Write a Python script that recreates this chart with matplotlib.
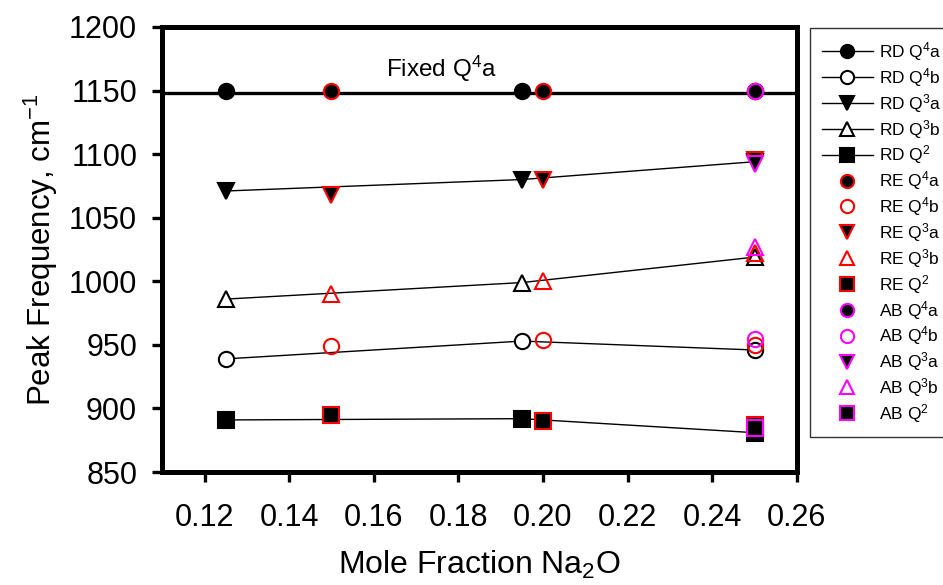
import matplotlib.pyplot as plt
from matplotlib.lines import Line2D

plt.rcParams['font.family'] = ['Liberation Sans', 'DejaVu Sans']
plt.rcParams['mathtext.fontset'] = 'custom'
plt.rcParams['mathtext.rm'] = 'Liberation Sans'
plt.rcParams['mathtext.it'] = 'Liberation Sans'
plt.rcParams['mathtext.default'] = 'regular'

# RD series (connected by lines)
rd_x = [0.125, 0.195, 0.25]
rd_q4a = [1150, 1150, 1150]
rd_q4b = [939, 953, 946]
rd_q3a = [1071, 1080, 1094]
rd_q3b = [986, 999, 1019]
rd_q2 = [891, 892, 881]

# RE series
re_x = [0.15, 0.20, 0.25]
re_q4a = [1150, 1150, 1150]
re_q4b = [949, 954, 950]
re_q3a = [1068, 1080, 1095]
re_q3b = [990, 1000, 1022]
re_q2 = [895, 890, 887]

# AB series
ab_x = [0.25]
ab_q4a = [1150]
ab_q4b = [955]
ab_q3a = [1092]
ab_q3b = [1027]
ab_q2 = [885]

fixed_q4a = 1148

xticks = [0.12, 0.14, 0.16, 0.18, 0.20, 0.22, 0.24, 0.26]
yticks = [850, 900, 950, 1000, 1050, 1100, 1150, 1200]

fig = plt.figure(figsize=(9.43, 5.85), dpi=100)
ax = fig.add_axes([0.172, 0.193, 0.673, 0.761])

ms = 11
lms = 9.5
# marker style per peak: (marker, filled)
styles = [('o', True), ('o', False), ('v', True), ('^', False), ('s', True)]
handles = []
labels = []
names = ['Q$^4$a', 'Q$^4$b', 'Q$^3$a', 'Q$^3$b', 'Q$^2$']

ax.axhline(fixed_q4a, color='black', lw=2.4, zorder=2)

rd_sets = [rd_q4a, rd_q4b, rd_q3a, rd_q3b, rd_q2]
for (m, filled), ys, nm in zip(styles, rd_sets, names):
    fc = 'black' if filled else 'white'
    ls = 'none' if ys is rd_q4a else '-'
    ax.plot(rd_x, ys, linestyle=ls, color='black', lw=1.0, marker=m, ms=ms,
            mfc=fc, mec='black', mew=1.5, zorder=3)
    handles.append(Line2D([], [], color='black', lw=1.0, marker=m, ms=lms,
                          mfc=fc, mec='black', mew=1.5))
    labels.append('RD ' + nm)

for col, grp, sets in [('red', 'RE', [re_q4a, re_q4b, re_q3a, re_q3b, re_q2]),
                       ('magenta', 'AB', [ab_q4a, ab_q4b, ab_q3a, ab_q3b, ab_q2])]:
    xs = re_x if grp == 'RE' else ab_x
    for (m, filled), ys, nm in zip(styles, sets, names):
        fc = 'black' if filled else 'none'
        ax.plot(xs, ys, linestyle='none', marker=m, ms=ms, mfc=fc, mec=col,
                mew=1.5, zorder=4)
        handles.append(Line2D([], [], linestyle='none', marker=m, ms=lms,
                              mfc=fc, mec=col, mew=1.5))
        labels.append(grp + ' ' + nm)

ax.text(0.176, 1167, 'Fixed Q$^4$a', fontsize=17.5, ha='center', va='center')

ax.set_xlim(0.11, 0.26)
ax.set_ylim(850, 1200)
ax.set_xticks(xticks)
ax.set_xticklabels(['%.2f' % v for v in xticks])
ax.set_yticks(yticks)
ax.tick_params(axis='both', direction='out', length=7, width=2.4, labelsize=22)
ax.tick_params(axis='x', pad=15)
ax.tick_params(axis='y', pad=11)
for sp in ax.spines.values():
    sp.set_linewidth(3.6)

ax.set_xlabel('Mole Fraction Na$_2$O', fontsize=23, labelpad=12)
ax.set_ylabel('Peak Frequency, cm$^{-1}$', fontsize=22.5, labelpad=6)

leg = fig.legend(handles, labels, loc='upper left',
                 bbox_to_anchor=(810 / 943, 1 - 28 / 585), fontsize=12.5,
                 frameon=True, fancybox=False, edgecolor='black',
                 handlelength=2.9, labelspacing=0.17, borderpad=0.7,
                 handletextpad=0.4, borderaxespad=0)
leg.get_frame().set_linewidth(1.0)

fig.savefig('out.png', dpi=100)
